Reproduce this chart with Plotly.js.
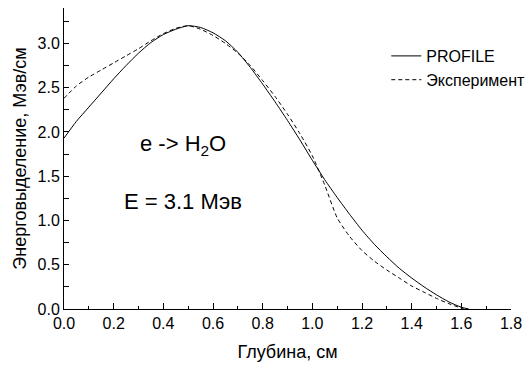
<!DOCTYPE html>
<html>
<head>
<meta charset="utf-8">
<script src="https://cdn.plot.ly/plotly-3.0.1.min.js"></script>
<style>html,body{margin:0;padding:0;background:#fff;}#chart{width:530px;height:369px;}</style>
</head>
<body>
<div id="chart"></div>
<script>
// Depth, cm
const depthProfile = [0, 0.05, 0.1, 0.15, 0.2, 0.25, 0.3, 0.35, 0.4, 0.45, 0.5, 0.55, 0.6, 0.65, 0.7, 0.75, 0.8, 0.85, 0.9, 0.95, 1.0, 1.05, 1.1, 1.15, 1.2, 1.25, 1.3, 1.35, 1.4, 1.45, 1.5, 1.55, 1.6, 1.63];
// Energy deposition (PROFILE), MeV/cm
const energyProfile = [1.93, 2.12, 2.28, 2.44, 2.60, 2.75, 2.89, 3.01, 3.10, 3.16, 3.20, 3.18, 3.12, 3.03, 2.90, 2.73, 2.54, 2.34, 2.13, 1.91, 1.68, 1.46, 1.26, 1.07, 0.89, 0.73, 0.59, 0.46, 0.35, 0.25, 0.16, 0.08, 0.02, 0.0];
// Depth, cm (experiment)
const depthExp = [0, 0.05, 0.1, 0.15, 0.2, 0.25, 0.3, 0.35, 0.4, 0.45, 0.5, 0.55, 0.6, 0.65, 0.7, 0.75, 0.8, 0.85, 0.9, 0.95, 1.0, 1.05, 1.1, 1.15, 1.2, 1.25, 1.3, 1.35, 1.4, 1.45, 1.5, 1.55, 1.61];
// Energy deposition (experiment), MeV/cm
const energyExp = [2.38, 2.52, 2.62, 2.70, 2.78, 2.86, 2.94, 3.03, 3.11, 3.17, 3.20, 3.16, 3.09, 3.00, 2.89, 2.75, 2.58, 2.40, 2.20, 1.98, 1.73, 1.40, 1.03, 0.82, 0.66, 0.54, 0.44, 0.35, 0.26, 0.19, 0.12, 0.06, 0.0];

const seriesNames = ["PROFILE", "Эксперимент"];
const xTitle = "Глубина, см";
const yTitle = "Энерговыделение, Мэв/см";
const label1 = "e -&gt; H<sub>2</sub>O";
const label2 = "E = 3.1 Мэв";

const font = "Arial, 'Liberation Sans', sans-serif";

const traces = [
  {x: depthProfile, y: energyProfile, mode: "lines", name: seriesNames[0],
   line: {color: "#000", width: 1, shape: "spline", smoothing: 0.6}},
  {x: depthExp, y: energyExp, mode: "lines", name: seriesNames[1],
   line: {color: "#000", width: 1, dash: "4px,3px", shape: "spline", smoothing: 0.6}}
];

const layout = {
  width: 530, height: 369,
  margin: {l: 64, r: 19, t: 8, b: 60, autoexpand: false},
  paper_bgcolor: "#fff", plot_bgcolor: "#fff",
  font: {family: font, size: 16, color: "#000"},
  showlegend: true,
  legend: {x: 0.721, y: 0.897, xanchor: "left", yanchor: "top",
           bgcolor: "rgba(0,0,0,0)", font: {family: font, size: 16, color: "#000"},
           tracegroupgap: 0},
  xaxis: {
    range: [0, 1.8], dtick: 0.2, tick0: 0, tickformat: ".1f",
    showline: true, linecolor: "#000", linewidth: 1, mirror: false,
    ticks: "inside", ticklen: 6, tickcolor: "#000", tickwidth: 1,
    minor: {dtick: 0.1, ticks: "inside", ticklen: 3, tickcolor: "#000", showgrid: false},
    showgrid: false, zeroline: false,
    tickfont: {family: font, size: 16, color: "#000"},
    title: {text: xTitle, font: {family: font, size: 18, color: "#000"}, standoff: 14}
  },
  yaxis: {
    range: [0, 3.4], dtick: 0.5, tick0: 0, tickformat: ".1f",
    showline: true, linecolor: "#000", linewidth: 1, mirror: false,
    ticks: "inside", ticklen: 5, tickcolor: "#000", tickwidth: 1,
    minor: {dtick: 0.25, ticks: "inside", ticklen: 5, tickcolor: "#000", showgrid: false},
    showgrid: false, zeroline: false,
    tickfont: {family: font, size: 16, color: "#000"},
    title: {text: yTitle, font: {family: font, size: 18, color: "#000"}, standoff: 6}
  },
  annotations: [
    {x: 0.298, y: 1.85, xref: "x", yref: "y", text: label1, showarrow: false,
     xanchor: "left", yanchor: "middle", font: {family: font, size: 22, color: "#000"}},
    {x: 0.234, y: 1.21, xref: "x", yref: "y", text: label2, showarrow: false,
     xanchor: "left", yanchor: "middle", font: {family: font, size: 22, color: "#000"}}
  ]
};

Plotly.newPlot("chart", traces, layout, {displayModeBar: false, staticPlot: true});
</script>
</body>
</html>
